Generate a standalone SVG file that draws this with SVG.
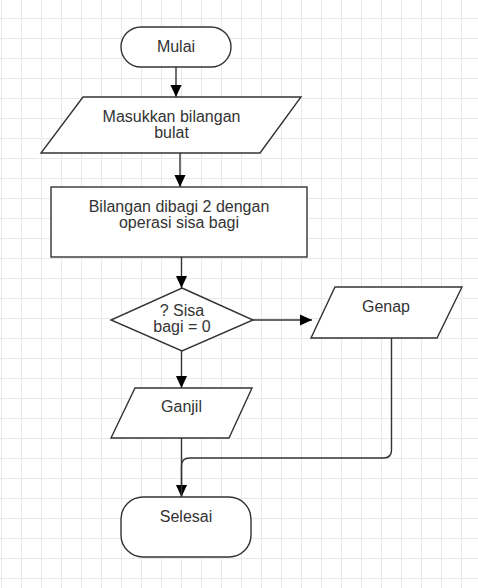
<svg xmlns="http://www.w3.org/2000/svg" width="478" height="588" viewBox="0 0 478 588">
  <defs>
    <pattern id="grid" patternUnits="userSpaceOnUse" x="1" y="18" width="20" height="20">
      <path d="M0.5 0 V20 M0 0.5 H20" fill="none" stroke="#e9e9e9" stroke-width="1"/>
    </pattern>
    <marker id="arr" markerUnits="userSpaceOnUse" markerWidth="12" markerHeight="14" refX="13" refY="6" viewBox="0 0 13 12" orient="auto">
      <path d="M0 0 L13 6 L0 12 Z" fill="#000"/>
    </marker>
    <style>
      .shape { fill: #fff; stroke: #333; stroke-width: 1.4; }
      .edge { fill: none; stroke: #333; stroke-width: 1.4; }
      .lbl { font-family: "Liberation Sans", Arial, sans-serif; font-size: 16px; fill: #333; text-anchor: middle; }
    </style>
  </defs>
  <rect width="478" height="588" fill="#fff"/>
  <rect width="478" height="588" fill="url(#grid)"/>

  <g id="connectors">
    <path class="edge" d="M176 67 V97" marker-end="url(#arr)"/>
    <path class="edge" d="M180 153 V187" marker-end="url(#arr)"/>
    <path class="edge" d="M181.5 257 V288" marker-end="url(#arr)"/>
    <path class="edge" d="M253 320 H312" marker-end="url(#arr)"/>
    <path class="edge" d="M181.5 351 V388" marker-end="url(#arr)"/>
    <path class="edge" d="M181.5 438 V497" marker-end="url(#arr)"/>
    <path class="edge" d="M391.5 338 V450 Q391.5 458 383.5 458 H189.5 Q181.5 458 181.5 466 V497"/>
  </g>

  <g id="mulai">
    <rect class="shape" x="121" y="27" width="110" height="40" rx="20" ry="20"/>
    <text class="lbl" x="176" y="52.3">Mulai</text>
  </g>

  <g id="input">
    <polygon class="shape" points="83,97 301,97 260,153 41,153"/>
    <text class="lbl" x="171.5" y="122.3">Masukkan bilangan</text>
    <text class="lbl" x="171.5" y="138.3">bulat</text>
  </g>

  <g id="proses">
    <rect class="shape" x="51" y="187" width="256" height="70"/>
    <text class="lbl" x="179" y="212.3">Bilangan dibagi 2 dengan</text>
    <text class="lbl" x="179" y="228.3">operasi sisa bagi</text>
  </g>

  <g id="keputusan">
    <polygon class="shape" points="182,288 253,320 182,351 111,320"/>
    <text class="lbl" x="182" y="316">? Sisa</text>
    <text class="lbl" x="182" y="332">bagi = 0</text>
  </g>

  <g id="genap">
    <polygon class="shape" points="335,287 462,287 437,338 311,338"/>
    <text class="lbl" x="386" y="312.3">Genap</text>
  </g>

  <g id="ganjil">
    <polygon class="shape" points="135,388 252,388 229,438 111,438"/>
    <text class="lbl" x="181.5" y="412.3">Ganjil</text>
  </g>

  <g id="selesai">
    <rect class="shape" x="121" y="497" width="130" height="60" rx="22" ry="22"/>
    <text class="lbl" x="186" y="522.3">Selesai</text>
  </g>
</svg>
